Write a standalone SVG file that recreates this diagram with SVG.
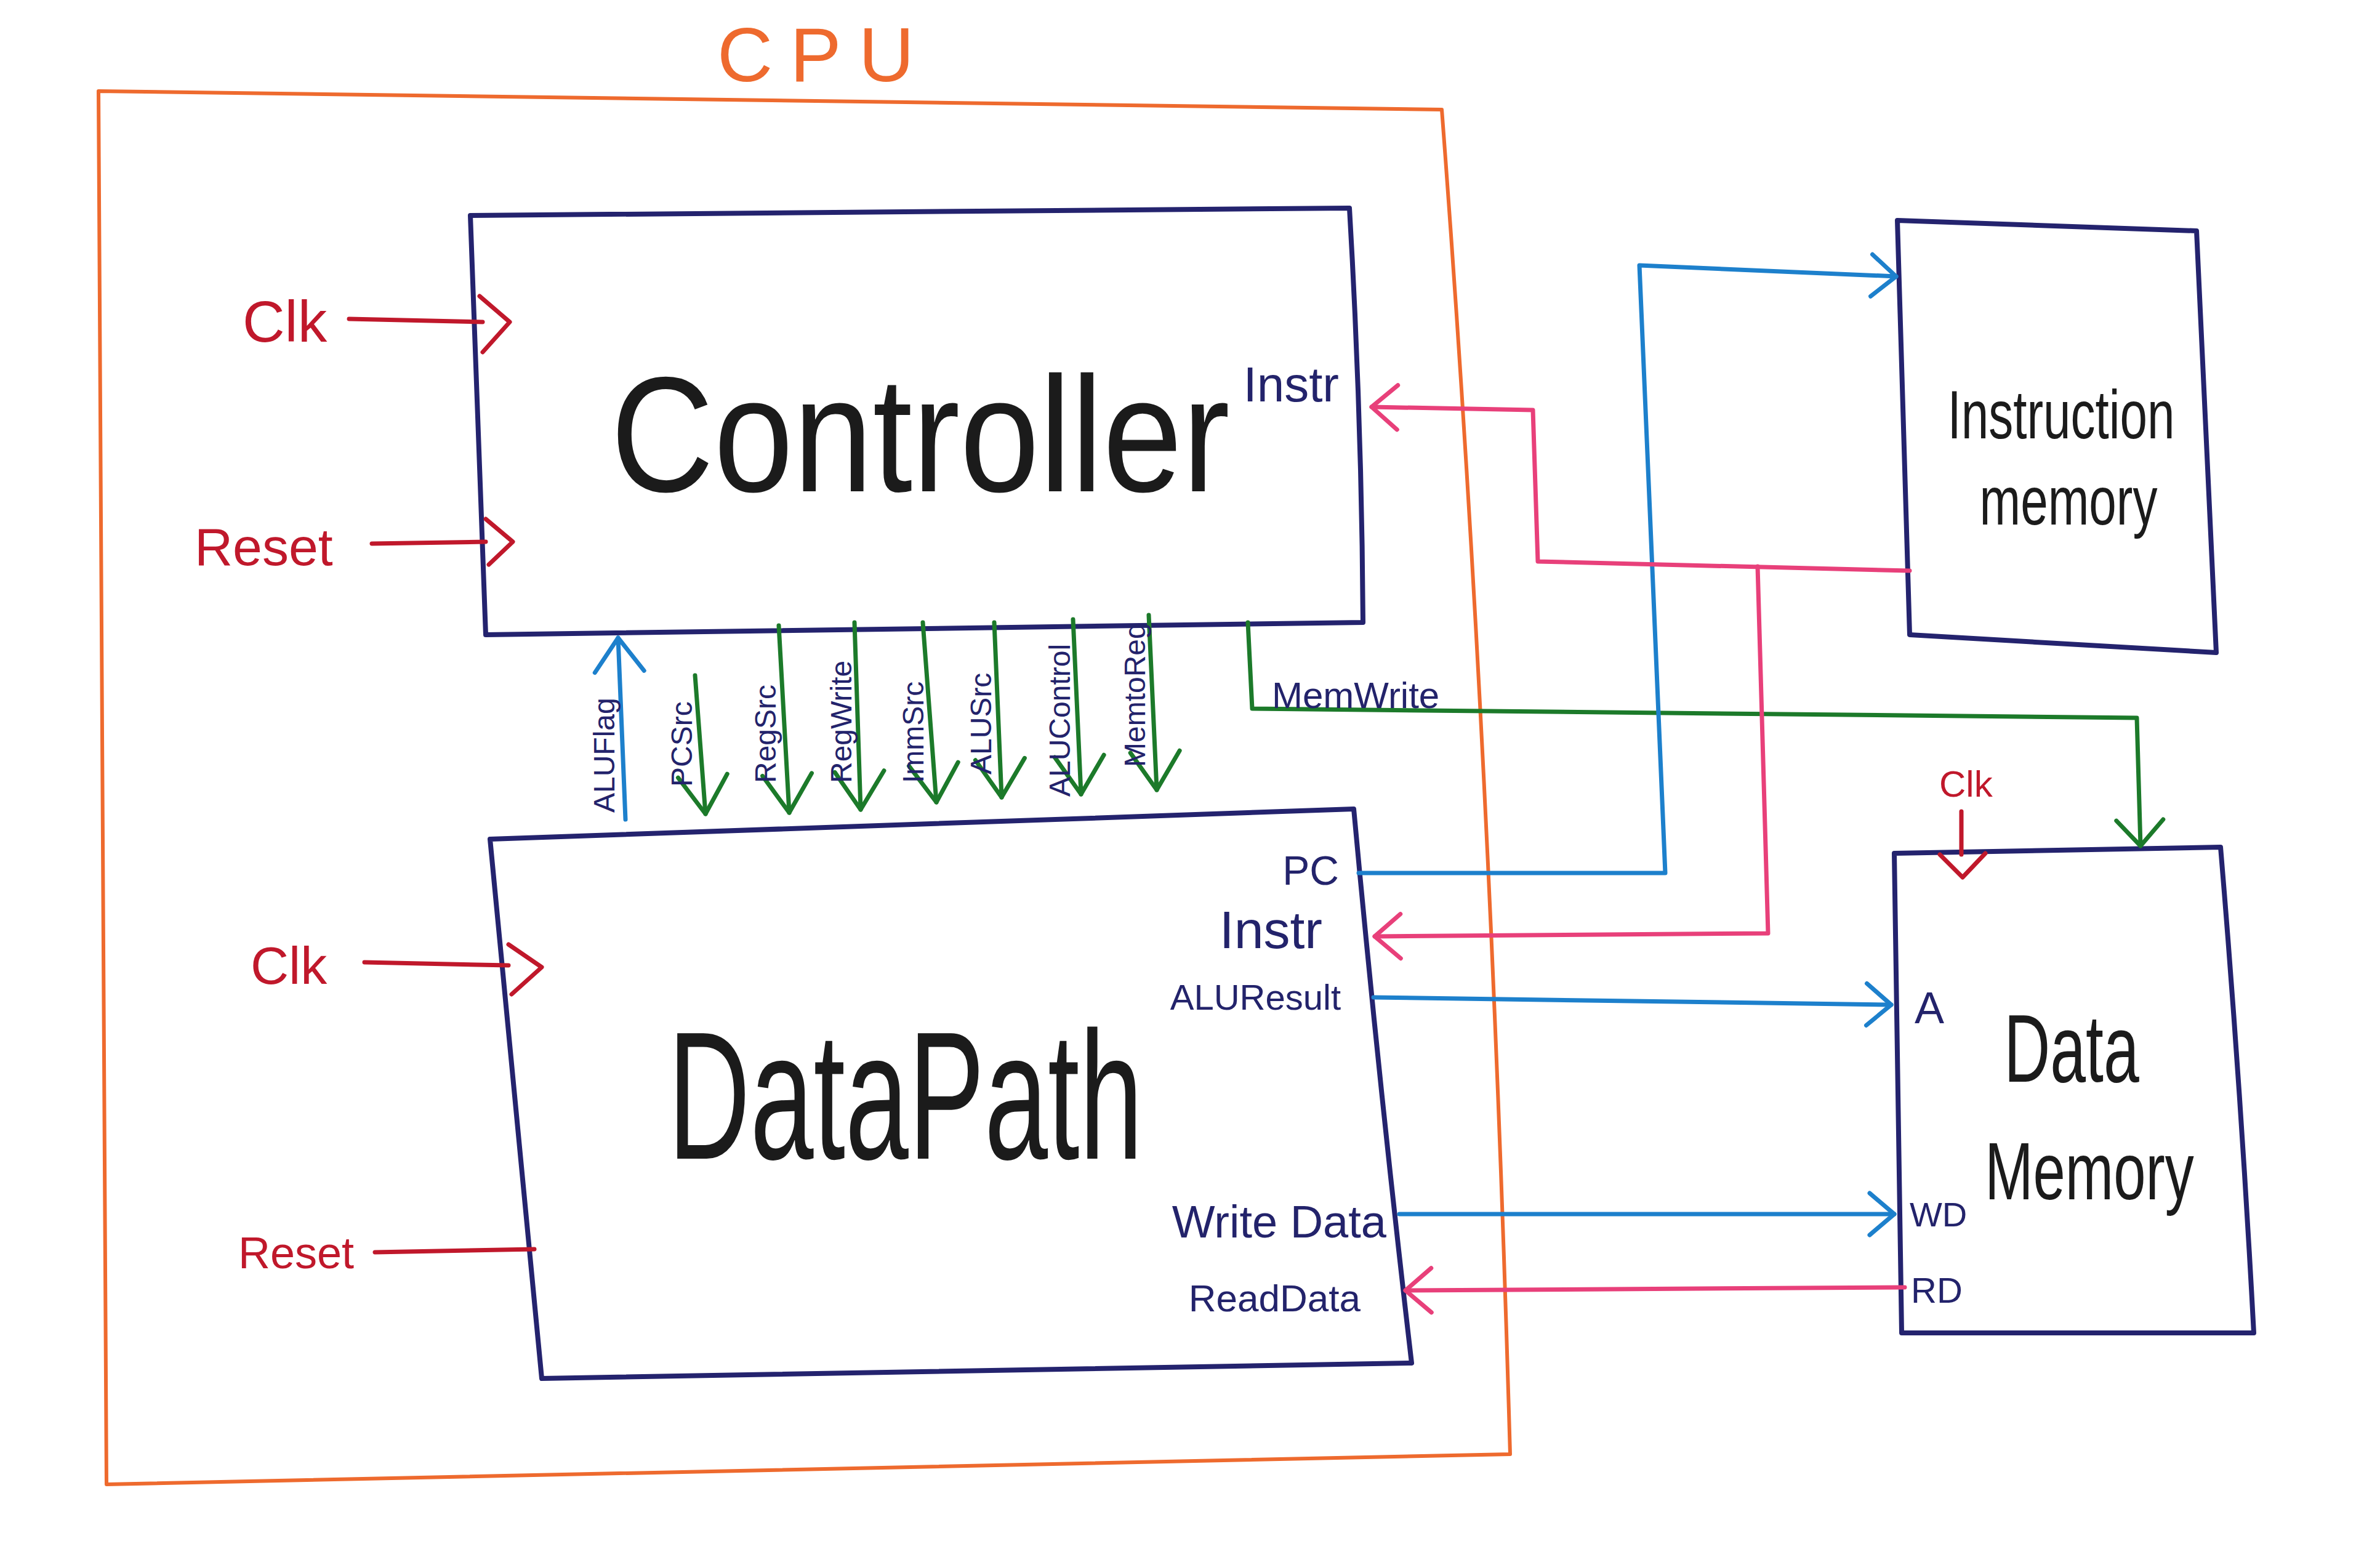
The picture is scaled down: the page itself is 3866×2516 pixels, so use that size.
<svg xmlns="http://www.w3.org/2000/svg" width="3866" height="2516" viewBox="0 0 3866 2516">
<style>
.box{fill:none;stroke:#24236e;stroke-width:8;stroke-linejoin:round;stroke-linecap:round}
.cpu{fill:none;stroke:#ee6a2e;stroke-width:6;stroke-linejoin:round}
.w{fill:none;stroke-width:7;stroke-linecap:round;stroke-linejoin:round}
.blue{stroke:#1d80cc}
.pink{stroke:#e8407a}
.green{stroke:#1c7a2a}
.red{stroke:#c0182b}
text{font-family:"Liberation Sans",Arial,sans-serif}
.big{fill:#1b1b1b}
.port{fill:#23236b}
.sig{fill:#23236b;font-size:48px}
.inp{fill:#c0182b}
.title{fill:#ee6a2e}
</style>
<defs>
<marker id="mBlue" markerUnits="userSpaceOnUse" viewBox="-60 -50 70 100" markerWidth="70" markerHeight="100" refX="0" refY="0" orient="auto"><path d="M-40,-34 L0,0 L-40,34" fill="none" stroke="#1d80cc" stroke-width="7" stroke-linecap="round" stroke-linejoin="round"/></marker>
<marker id="mBlueL" markerUnits="userSpaceOnUse" viewBox="-70 -50 80 100" markerWidth="80" markerHeight="100" refX="0" refY="0" orient="auto"><path d="M-55,-40 L0,0 L-55,40" fill="none" stroke="#1d80cc" stroke-width="7" stroke-linecap="round" stroke-linejoin="round"/></marker>
<marker id="mPink" markerUnits="userSpaceOnUse" viewBox="-60 -50 70 100" markerWidth="70" markerHeight="100" refX="0" refY="0" orient="auto"><path d="M-42,-36 L0,0 L-42,36" fill="none" stroke="#e8407a" stroke-width="7" stroke-linecap="round" stroke-linejoin="round"/></marker>
<marker id="mGreen" markerUnits="userSpaceOnUse" viewBox="-60 -50 70 100" markerWidth="70" markerHeight="100" refX="0" refY="0" orient="auto"><path d="M-42,-38 L0,0 L-42,38" fill="none" stroke="#1c7a2a" stroke-width="7" stroke-linecap="round" stroke-linejoin="round"/></marker>
<marker id="mGreenL" markerUnits="userSpaceOnUse" viewBox="-75 -50 85 100" markerWidth="85" markerHeight="100" refX="0" refY="0" orient="auto"><path d="M-62,-40 L0,0 L-62,40" fill="none" stroke="#1c7a2a" stroke-width="7" stroke-linecap="round" stroke-linejoin="round"/></marker>
</defs>
<rect width="3866" height="2516" fill="#ffffff"/>

<g id="cpu">
<path class="cpu" d="M160,148 L2342,178 Q2420,1200 2453,2362 L173,2411 Z"/>
<text class="title" x="1165" y="132" font-size="125" letter-spacing="28">CPU</text>
</g>

<g id="controller">
<path class="box" d="M764,350 L2192,338 Q2212,680 2214,1011 L789,1031 Z"/>
<text class="big" transform="translate(992,798) scale(1,1.15)" font-size="232">Controller</text>
<text class="port" x="2175" y="652" font-size="80" text-anchor="end">Instr</text>
</g>

<g id="datapath">
<path class="box" d="M796,1363 L2199,1314 Q2240,1760 2293,2214 L880,2239 Z"/>
<text class="big" transform="translate(1085,1882) scale(1,1.6)" font-size="185">DataPath</text>
<text class="port" x="2175" y="1437" font-size="66" text-anchor="end">PC</text>
<text class="port" x="2148" y="1540" font-size="86" text-anchor="end">Instr</text>
<text class="port" x="2178" y="1640" font-size="58" text-anchor="end">ALUResult</text>
<text class="port" x="2252" y="2010" font-size="74" text-anchor="end">Write Data</text>
<text class="port" x="2210" y="2130" font-size="62" text-anchor="end">ReadData</text>
</g>

<g id="instruction-memory">
<path class="box" d="M3082,358 L3568,375 L3600,1060 L3102,1031 Z"/>
<text class="big" transform="translate(3348,712) scale(1,1.4)" font-size="80" text-anchor="middle">Instruction</text>
<text class="big" transform="translate(3360,852) scale(1,1.4)" font-size="80" text-anchor="middle">memory</text>
</g>

<g id="data-memory">
<path class="box" d="M3077,1386 L3607,1376 Q3640,1770 3661,2165 L3089,2165 Z"/>
<text class="big" transform="translate(3365,1757) scale(1,1.5)" font-size="104" text-anchor="middle">Data</text>
<text class="big" transform="translate(3394,1948) scale(1,1.4)" font-size="94" text-anchor="middle">Memory</text>
<text class="port" x="3110" y="1662" font-size="72">A</text>
<text class="port" x="3102" y="1992" font-size="56">WD</text>
<text class="port" x="3104" y="2116" font-size="58">RD</text>
</g>

<g id="connectors">
<g id="clk-controller">
<text class="inp" x="394" y="555" font-size="95">Clk</text>
<path class="w red" d="M567,518 L784,523"/>
<polyline class="w red" points="779,481 828,523 784,572"/>
</g>
<g id="reset-controller">
<text class="inp" x="316" y="918" font-size="86">Reset</text>
<path class="w red" d="M604,883 L789,880"/>
<polyline class="w red" points="789,843 833,880 794,917"/>
</g>
<g id="clk-datapath">
<text class="inp" x="407" y="1598" font-size="86">Clk</text>
<path class="w red" d="M592,1563 L826,1568"/>
<polyline class="w red" points="826,1534 880,1571 831,1615"/>
</g>
<g id="reset-datapath">
<text class="inp" x="387" y="2060" font-size="72">Reset</text>
<path class="w red" d="M609,2034 L868,2029"/>
</g>
<g id="clk-datamem">
<text class="inp" x="3150" y="1294" font-size="60">Clk</text>
<path class="w red" d="M3186,1318 L3186,1388"/>
<polyline class="w red" points="3151,1388 3188,1425 3225,1386"/>
</g>

<g id="aluflag">
<path class="w blue" d="M1016,1331 L1004,1036" marker-end="url(#mBlueL)"/>
<text class="sig" transform="translate(998,1320) rotate(-90)">ALUFlag</text>
</g>
<g id="pcsrc">
<path class="w green" d="M1129,1097 L1146,1322" marker-end="url(#mGreenL)"/>
<text class="sig" transform="translate(1124,1278) rotate(-90)">PCSrc</text>
</g>
<g id="regsrc">
<path class="w green" d="M1265,1016 L1282,1320" marker-end="url(#mGreenL)"/>
<text class="sig" transform="translate(1260,1272) rotate(-90)">RegSrc</text>
</g>
<g id="regwrite">
<path class="w green" d="M1388,1011 L1398,1315" marker-end="url(#mGreenL)"/>
<text class="sig" transform="translate(1383,1272) rotate(-90)">RegWrite</text>
</g>
<g id="immsrc">
<path class="w green" d="M1499,1011 L1521,1303" marker-end="url(#mGreenL)"/>
<text class="sig" transform="translate(1500,1272) rotate(-90)">ImmSrc</text>
</g>
<g id="alusrc">
<path class="w green" d="M1615,1011 L1627,1295" marker-end="url(#mGreenL)"/>
<text class="sig" transform="translate(1610,1258) rotate(-90)">ALUSrc</text>
</g>
<g id="alucontrol">
<path class="w green" d="M1743,1006 L1756,1290" marker-end="url(#mGreenL)"/>
<text class="sig" transform="translate(1738,1294) rotate(-90)">ALUControl</text>
</g>
<g id="memtoreg">
<path class="w green" d="M1866,999 L1879,1283" marker-end="url(#mGreenL)"/>
<text class="sig" transform="translate(1860,1246) rotate(-90)">MemtoReg</text>
</g>

<g id="memwrite">
<path class="w green" d="M2027,1011 L2034,1151 L3471,1166 L3477,1374" marker-end="url(#mGreen)"/>
<text class="port" x="2066" y="1150" font-size="60">MemWrite</text>
</g>

<g id="pc-to-imem">
<path class="w blue" d="M2207,1418 L2705,1418 L2663,431 L3080,449" marker-end="url(#mBlue)"/>
</g>
<g id="instr-to-controller">
<path class="w pink" d="M3102,927 L2498,912 L2490,666 L2228,661" marker-end="url(#mPink)"/>
</g>
<g id="instr-to-datapath">
<path class="w pink" d="M2855,920 L2872,1516 L2233,1521" marker-end="url(#mPink)"/>
</g>
<g id="aluresult-to-a">
<path class="w blue" d="M2231,1620 L3072,1632" marker-end="url(#mBlue)"/>
</g>
<g id="writedata-to-wd">
<path class="w blue" d="M2273,1972 L3077,1972" marker-end="url(#mBlue)"/>
</g>
<g id="rd-to-readdata">
<path class="w pink" d="M3094,2091 L2283,2096" marker-end="url(#mPink)"/>
</g>
</g>
</svg>
